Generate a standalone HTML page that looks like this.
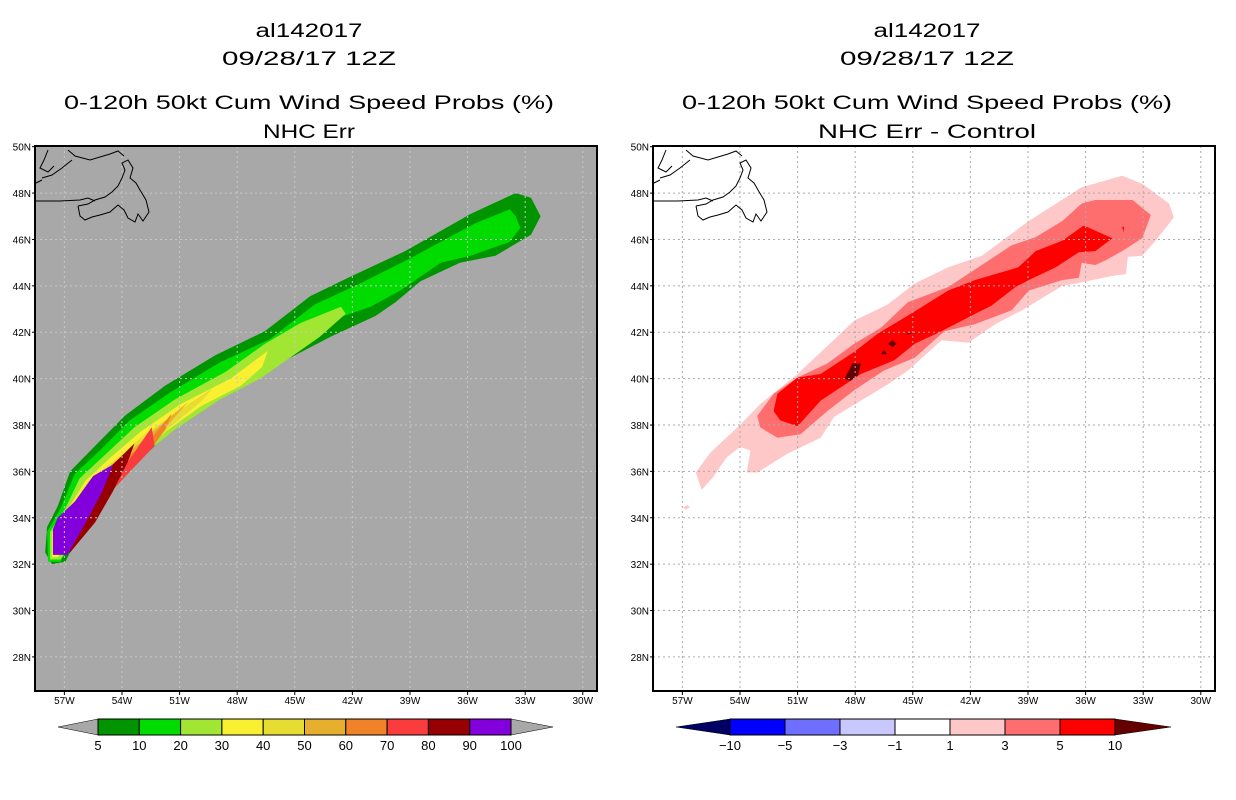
<!DOCTYPE html>
<html><head><meta charset="utf-8"><style>
html,body{margin:0;padding:0;background:#fff;}
svg{display:block;font-family:"Liberation Sans",sans-serif;}
</style></head><body>
<svg id="chart" width="1236" height="800" viewBox="0 0 1236 800" xmlns="http://www.w3.org/2000/svg">
<g id="titles" font-size="19" text-anchor="middle" fill="#000">
 <text x="309" y="37" textLength="107" lengthAdjust="spacingAndGlyphs">al142017</text>
 <text x="309" y="65" textLength="174" lengthAdjust="spacingAndGlyphs">09/28/17 12Z</text>
 <text x="309" y="109" textLength="490" lengthAdjust="spacingAndGlyphs">0-120h 50kt Cum Wind Speed Probs (%)</text>
 <text x="309" y="138" textLength="92" lengthAdjust="spacingAndGlyphs">NHC Err</text>
 <text x="927" y="37" textLength="107" lengthAdjust="spacingAndGlyphs">al142017</text>
 <text x="927" y="65" textLength="174" lengthAdjust="spacingAndGlyphs">09/28/17 12Z</text>
 <text x="927" y="109" textLength="490" lengthAdjust="spacingAndGlyphs">0-120h 50kt Cum Wind Speed Probs (%)</text>
 <text x="927" y="138" textLength="218" lengthAdjust="spacingAndGlyphs">NHC Err - Control</text>
</g>
<g id="leftPanel"></g>
<g id="rightPanel"></g>
<g id="leftBar"></g>
<g id="rightBar"></g>
</svg>
<script>
// ---- axis data ----
const latTicks = [50,48,46,44,42,40,38,36,34,32,30,28];
const lonTicks = [-57,-54,-51,-48,-45,-42,-39,-36,-33,-30];
const lonRange = [-58.53, -29.26];
const latRange = [50.03, 26.53];

// ---- left panel: cumulative probability contour levels ----
const leftLevels = [5,10,20,30,40,50,60,70,80,90];
const leftColors = ['#009400','#00dc00','#a0e632','#faf032','#e6dc32','#e6af2d','#f08228','#fa3c3c','#960000','#8200dc'];
const leftPoly5 = [[-57.65,32.0],[-58.0,32.5],[-57.9,33.6],[-57.35,34.5],[-56.7,36.0],[-55.4,37.1],[-53.85,38.4],[-51.75,39.7],[-49.15,41.0],[-46.55,42.05],[-44.2,43.55],[-42.1,44.4],[-39.25,45.5],[-35.85,47.1],[-33.5,48.0],[-32.7,47.8],[-32.2,47.0],[-32.7,46.2],[-34.55,45.3],[-36.4,45.0],[-38.45,44.2],[-39.75,43.3],[-40.8,42.7],[-43.15,41.8],[-45.0,41.0],[-47.05,40.1],[-49.15,39.0],[-51.5,37.7],[-52.8,36.7],[-54.6,35.1],[-55.9,33.8],[-56.95,32.1]];
const leftPoly10 = [[-57.85,32.1],[-57.9,33.4],[-57.2,34.4],[-56.45,35.9],[-55.15,36.9],[-53.6,38.2],[-51.5,39.4],[-48.9,40.7],[-46.3,41.7],[-43.95,43.2],[-41.85,44.0],[-38.95,45.2],[-35.6,46.7],[-33.8,47.3],[-33.5,47.0],[-33.25,46.5],[-33.8,45.9],[-35.85,45.3],[-37.4,45.0],[-39.5,43.8],[-41.05,43.1],[-43.15,42.5],[-45.25,41.4],[-47.3,40.3],[-49.4,39.2],[-52.0,37.7],[-53.05,36.9],[-54.9,35.4],[-56.2,33.8],[-57.2,32.1]];
const leftPoly20 = [[-57.75,32.2],[-57.75,33.4],[-56.95,34.4],[-56.2,35.7],[-54.9,36.7],[-53.35,37.9],[-51.25,39.1],[-48.6,40.3],[-46.55,41.5],[-44.7,42.4],[-42.6,43.1],[-42.35,42.8],[-43.7,41.8],[-45.25,40.9],[-46.8,40.0],[-48.9,39.1],[-51.25,37.8],[-53.05,36.6],[-54.6,35.1],[-55.9,33.7],[-57.2,32.2]];
const leftPoly30 = [[-57.65,32.3],[-57.65,33.4],[-56.8,34.4],[-55.9,35.6],[-54.6,36.6],[-53.05,37.7],[-50.95,38.9],[-48.35,40.0],[-46.4,41.2],[-46.7,40.5],[-47.8,39.7],[-49.9,38.8],[-51.75,37.7],[-53.35,36.5],[-54.9,35.1],[-56.2,33.8],[-57.35,32.3]];
const leftPoly40 = [[-57.55,32.5],[-57.55,33.4],[-56.7,34.4],[-55.75,35.6],[-54.35,36.5],[-52.8,37.6],[-50.7,38.8],[-49.25,39.6],[-49.9,39.0],[-51.5,37.9],[-53.05,36.8],[-54.6,35.4],[-56.1,33.9],[-57.35,32.5]];
const leftPoly50 = [[-57.5,32.5],[-57.45,33.5],[-56.6,34.5],[-55.55,35.5],[-54.1,36.5],[-52.55,37.6],[-50.55,39.0],[-51.4,38.2],[-52.7,37.0],[-54.35,35.5],[-55.9,34.0],[-57.35,32.5]];
const leftPoly60 = [[-57.45,32.6],[-57.4,33.5],[-56.45,34.5],[-55.4,35.4],[-53.85,36.5],[-52.3,37.6],[-51.4,38.5],[-51.75,37.8],[-52.55,36.9],[-54.1,35.6],[-55.75,34.2],[-57.2,32.6]];
const leftPoly70 = [[-57.4,32.8],[-57.35,33.6],[-56.3,34.5],[-55.15,35.4],[-53.7,36.4],[-52.45,37.9],[-52.3,37.1],[-53.35,36.2],[-54.6,35.1],[-55.65,34.0],[-57.1,32.8]];
const leftPoly80 = [[-57.5,32.6],[-57.45,33.6],[-56.6,34.5],[-55.4,35.6],[-54.1,36.6],[-53.35,37.2],[-53.7,36.4],[-54.5,35.1],[-55.4,33.8],[-56.7,32.5]];
const leftPoly90 = [[-57.6,33.5],[-57.6,32.4],[-56.85,32.4],[-55.75,34.0],[-55.05,35.1],[-54.45,36.3],[-55.5,35.8],[-56.45,34.7],[-57.35,34.0]];
const leftPolys = [leftPoly5,leftPoly10,leftPoly20,leftPoly30,leftPoly40,leftPoly50,leftPoly60,leftPoly70,leftPoly80,leftPoly90];

// ---- right panel: difference contour levels ----
const rightLevels = [1,3,5,10];
const rightColors = ['#ffc8c8','#ff6e6e','#ff0000','#640000'];
const rightPoly1 = [[-56.0,35.2],[-56.3,35.95],[-55.55,36.8],[-54.0,38.0],[-52.95,38.9],[-51.0,40.2],[-48.05,42.5],[-46.3,43.2],[-44.9,44.1],[-43.15,44.8],[-41.4,45.3],[-38.95,46.8],[-36.2,48.25],[-34.1,48.75],[-33.05,48.4],[-31.65,47.55],[-31.4,46.95],[-32.35,45.95],[-33.05,45.3],[-33.8,45.25],[-33.9,44.5],[-34.45,44.45],[-36.5,44.1],[-37.2,44.0],[-39.3,42.95],[-40.7,42.35],[-42.1,41.55],[-43.5,41.65],[-45.25,40.35],[-46.3,39.75],[-47.7,39.05],[-49.1,38.35],[-49.8,37.45],[-51.55,36.75],[-53.1,35.95],[-53.65,35.95],[-53.45,36.9],[-54.0,37.05],[-54.7,36.6],[-55.4,35.75]];
const rightBlob1 = [[-56.95,34.45],[-56.75,34.55],[-56.6,34.45],[-56.85,34.35]];
const rightPoly3 = [[-53.1,38.4],[-52.25,39.35],[-51.0,40.05],[-49.45,40.65],[-48.05,41.5],[-46.65,42.2],[-45.25,43.3],[-43.15,43.95],[-41.95,44.6],[-39.85,45.75],[-38.6,46.1],[-37.2,46.8],[-36.2,47.55],[-35.5,47.7],[-33.55,47.7],[-32.6,47.05],[-33.05,46.05],[-34.1,45.5],[-34.95,45.1],[-35.5,44.9],[-36.2,45.0],[-36.35,44.35],[-37.2,44.25],[-38.95,43.8],[-39.85,42.95],[-41.75,42.35],[-43.35,42.05],[-44.9,40.9],[-46.5,40.35],[-48.05,39.5],[-49.45,38.6],[-50.85,37.6],[-52.05,37.45],[-52.95,37.9]];
const rightPoly5 = [[-52.25,38.6],[-52.05,39.35],[-51.0,40.05],[-49.8,40.2],[-48.05,41.15],[-46.8,41.95],[-45.1,42.8],[-43.15,43.8],[-41.75,44.25],[-39.5,44.8],[-38.6,45.5],[-37.2,45.95],[-36.1,46.6],[-34.6,46.05],[-35.5,45.5],[-36.35,45.45],[-37.55,44.8],[-38.95,44.25],[-39.65,43.95],[-40.9,43.15],[-41.75,42.8],[-43.5,42.05],[-44.9,41.5],[-45.95,40.8],[-47.7,40.2],[-49.8,39.05],[-51.0,37.95],[-51.9,38.2]];
const rightPoly10a = [[-48.55,40.0],[-48.15,40.65],[-47.7,40.65],[-47.85,40.15],[-48.25,39.9]];
const rightPoly10b = [[-46.3,41.5],[-46.05,41.65],[-45.85,41.5],[-46.05,41.35]];
const rightPoly10c = [[-46.65,41.05],[-46.5,41.25],[-46.35,41.05]];
const rightPoly10d = [[-45.3,41.95],[-44.85,42.0],[-45.3,41.9]];
const rightPolyDot = [[-34.1,46.55],[-34.0,46.55],[-34.02,46.3]];
const rightPolys = [[rightPoly1,0],[rightBlob1,0],[rightPoly3,1],[rightPoly5,2],[rightPolyDot,2],[rightPoly10a,3],[rightPoly10b,3],[rightPoly10c,3],[rightPoly10d,3]];

// ---- colorbar labels ----
const leftBarLabels = ['5','10','20','30','40','50','60','70','80','90','100'];
const rightBarLabels = ['\u221210','\u22125','\u22123','\u22121','1','3','5','10'];
const rightBarColors = ['#0000ff','#6e6eff','#c8c8ff','#ffffff','#ffc8c8','#ff6e6e','#ff0000'];

const NS = 'http://www.w3.org/2000/svg';
function mk(tag, attrs, parent){ const e=document.createElementNS(NS,tag); for(const k in attrs) e.setAttribute(k,attrs[k]); if(parent) parent.appendChild(e); return e; }

function makePanel(g, x0, bg, gridColor){
  const x1 = x0+562, y0=146, y1=691;
  const X = lon => x0 + (lon-lonRange[0])/(lonRange[1]-lonRange[0])*(x1-x0);
  const Y = lat => y0 + (latRange[0]-lat)/(latRange[0]-latRange[1])*(y1-y0);
  const bgR = mk('rect',{x:x0,y:y0,width:x1-x0,height:y1-y0,fill:bg},g);
  
  
  return {X,Y,x0,x1,y0,y1,gridColor};
}
function polyPoints(P, pts){ return pts.map(p=>P.X(p[0]).toFixed(1)+','+P.Y(p[1]).toFixed(1)).join(' '); }

function drawGridAndAxes(g, P){
  const grid = mk('g',{stroke:P.gridColor,'stroke-width':1,'stroke-dasharray':'2,3'},g);
  
  
  lonTicks.forEach(l=>{ const x=P.X(l); mk('line',{x1:x,x2:x,y1:P.y0,y2:P.y1},grid); });
  latTicks.forEach(l=>{ const y=P.Y(l); if(y>P.y0+2) mk('line',{x1:P.x0,x2:P.x1,y1:y,y2:y},grid); });
  // coastline (Newfoundland)
  const c = mk('g',{fill:'none',stroke:'#000','stroke-width':1},g);
  
  
  const dx = P.x0-35;
  const lines = [
   [[36,201],[60,201],[80,200],[88,198],[95,201]],
   [[78,206],[88,204],[95,200],[105,197],[112,192],[118,186],[122,178],[125,170],[122,163],[128,160],[133,168],[130,178],[136,183],[140,190],[146,200],[149,212],[143,221],[138,214],[135,222],[128,218],[124,210],[118,205],[110,212],[100,215],[92,217],[85,220],[80,216],[78,206]],
   [[68,150],[75,156],[90,160],[100,157],[110,154],[118,151],[124,156]],
   [[48,150],[44,160],[40,168],[48,172],[54,166]],
   [[42,178],[52,175],[62,168],[72,160]],
   [[36,183],[42,180]]
  ];
  lines.forEach(l=>mk('polyline',{points:l.map(p=>(p[0]+dx)+','+p[1]).join(' ')},c));
  const fr = mk('rect',{x:P.x0,y:P.y0,width:P.x1-P.x0,height:P.y1-P.y0,fill:'none',stroke:'#000','stroke-width':2},g);
  
  
  const ax = mk('g',{'font-size':10,fill:'#000'},g);
  
  
  latTicks.forEach(l=>{ const y=P.Y(l);
    mk('line',{x1:P.x0-3,x2:P.x0,y1:y,y2:y,stroke:'#000'},ax);
    const t=mk('text',{x:P.x0-4,y:y+4,'text-anchor':'end'},ax); t.textContent=l+'N';
    
    
  });
  lonTicks.forEach(l=>{ const x=P.X(l);
    mk('line',{x1:x,x2:x,y1:P.y1,y2:P.y1+4,stroke:'#000'},ax);
    const t=mk('text',{x:x,y:P.y1+13,'text-anchor':'middle'},ax); t.textContent=(-l)+'W';
    
    
  });
}

// left panel
const gl = document.getElementById('leftPanel');
const PL = makePanel(gl, 35, '#a8a8a8', '#c8c8c8');
leftPolys.forEach((pts,i)=>{
  const p = mk('polygon',{points:polyPoints(PL,pts),fill:leftColors[i]},gl);
  
  
});
drawGridAndAxes(gl, PL);

// right panel
const gr = document.getElementById('rightPanel');
const PR = makePanel(gr, 653, '#ffffff', '#aaaaaa');
rightPolys.forEach(([pts,ci])=>{
  const p = mk('polygon',{points:polyPoints(PR,pts),fill:rightColors[ci]},gr);
  
  
});
drawGridAndAxes(gr, PR);

// colorbars
function colorbar(g, tipL, bx0, bx1, tipR, colors, labels, leftTip, rightTip){
  const y0=719, y1=735, ym=727, n=colors.length, w=(bx1-bx0)/n;
  const tl = mk('polygon',{points:`${tipL},${ym} ${bx0},${y0} ${bx0},${y1}`,fill:leftTip,stroke:'#000','stroke-width':0.5},g);
  
  
  const tr = mk('polygon',{points:`${tipR},${ym} ${bx1},${y0} ${bx1},${y1}`,fill:rightTip,stroke:'#000','stroke-width':0.5},g);
  
  
  colors.forEach((c,i)=>{
    const r = mk('rect',{x:bx0+i*w,y:y0,width:w,height:y1-y0,fill:c,stroke:'#000','stroke-width':1},g);
    
    
  });
  labels.forEach((s,i)=>{
    const t = mk('text',{x:bx0+i*w,y:750,'text-anchor':'middle','font-size':13,fill:'#000'},g);
    t.textContent=s;
    
    
  });
}
colorbar(document.getElementById('leftBar'), 58, 98, 511, 553, leftColors, leftBarLabels, '#a8a8a8', '#a8a8a8');
colorbar(document.getElementById('rightBar'), 676, 730, 1115, 1171, rightBarColors, rightBarLabels.slice(0), '#000064', '#640000');
</script>
</body></html>
